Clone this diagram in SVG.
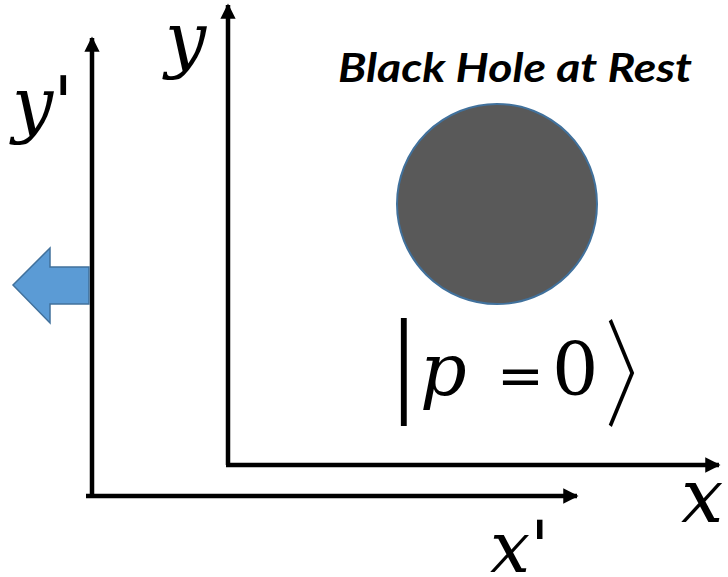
<svg xmlns="http://www.w3.org/2000/svg" width="728" height="577" viewBox="0 0 728 577">
<style>
.ax{stroke:#000;stroke-width:4.5;fill:none}
</style>
<defs>
<marker id="ah" viewBox="0 0 10 10" refX="9" refY="5" markerWidth="3.4" markerHeight="3.4" markerUnits="strokeWidth" orient="auto">
<path d="M0,0 L10,5 L0,10 Z" fill="#000"/>
</marker>
</defs>
<rect width="728" height="577" fill="#fff"/>
<g id="connectors">
<line class="ax" x1="92" y1="496" x2="92" y2="38" marker-end="url(#ah)"/>
<line class="ax" x1="86" y1="496" x2="577" y2="496" marker-end="url(#ah)"/>
<line class="ax" x1="228" y1="465" x2="228" y2="5" marker-end="url(#ah)"/>
<line class="ax" x1="226" y1="465" x2="719" y2="465" marker-end="url(#ah)"/>
</g>
<g id="motion-arrow">
<polygon points="89,267 50,267 50,248 13,285 50,323 50,304 89,304" fill="#5B9BD5" stroke="#41719C" stroke-width="1.5"/>
</g>
<g id="black-hole">
<circle cx="497" cy="204" r="100" fill="#595959" stroke="#41719C" stroke-width="2"/>
</g>
<g id="title">
<text x="338" y="82" font-family="Lato" font-weight="bold" font-style="italic" font-size="40" textLength="354" lengthAdjust="spacingAndGlyphs">Black Hole at Rest</text>
</g>
<g id="labels">
<text x="12" y="129" font-size="73" font-family="DejaVu Serif" font-style="italic">y'</text>
<text x="165" y="64" font-size="73" font-family="DejaVu Serif" font-style="italic">y</text>
<text x="681" y="522" font-size="75" font-family="DejaVu Serif" font-style="italic">x</text>
<text x="490" y="572" font-size="71" font-family="DejaVu Serif" font-style="italic">x'</text>
</g>
<g id="state">
<text x="392" y="401" font-size="118" font-family="Liberation Serif">|</text>
<text y="395" font-family="DejaVu Serif"><tspan x="420" font-size="73" font-style="italic">p</tspan><tspan x="497" font-size="56">=</tspan><tspan x="552" font-size="73">0</tspan></text>
<text transform="translate(605,0) scale(0.63,1)" x="0" y="417" font-size="117" font-family="Noto Sans CJK JP" font-weight="300">〉</text>
</g>
</svg>
